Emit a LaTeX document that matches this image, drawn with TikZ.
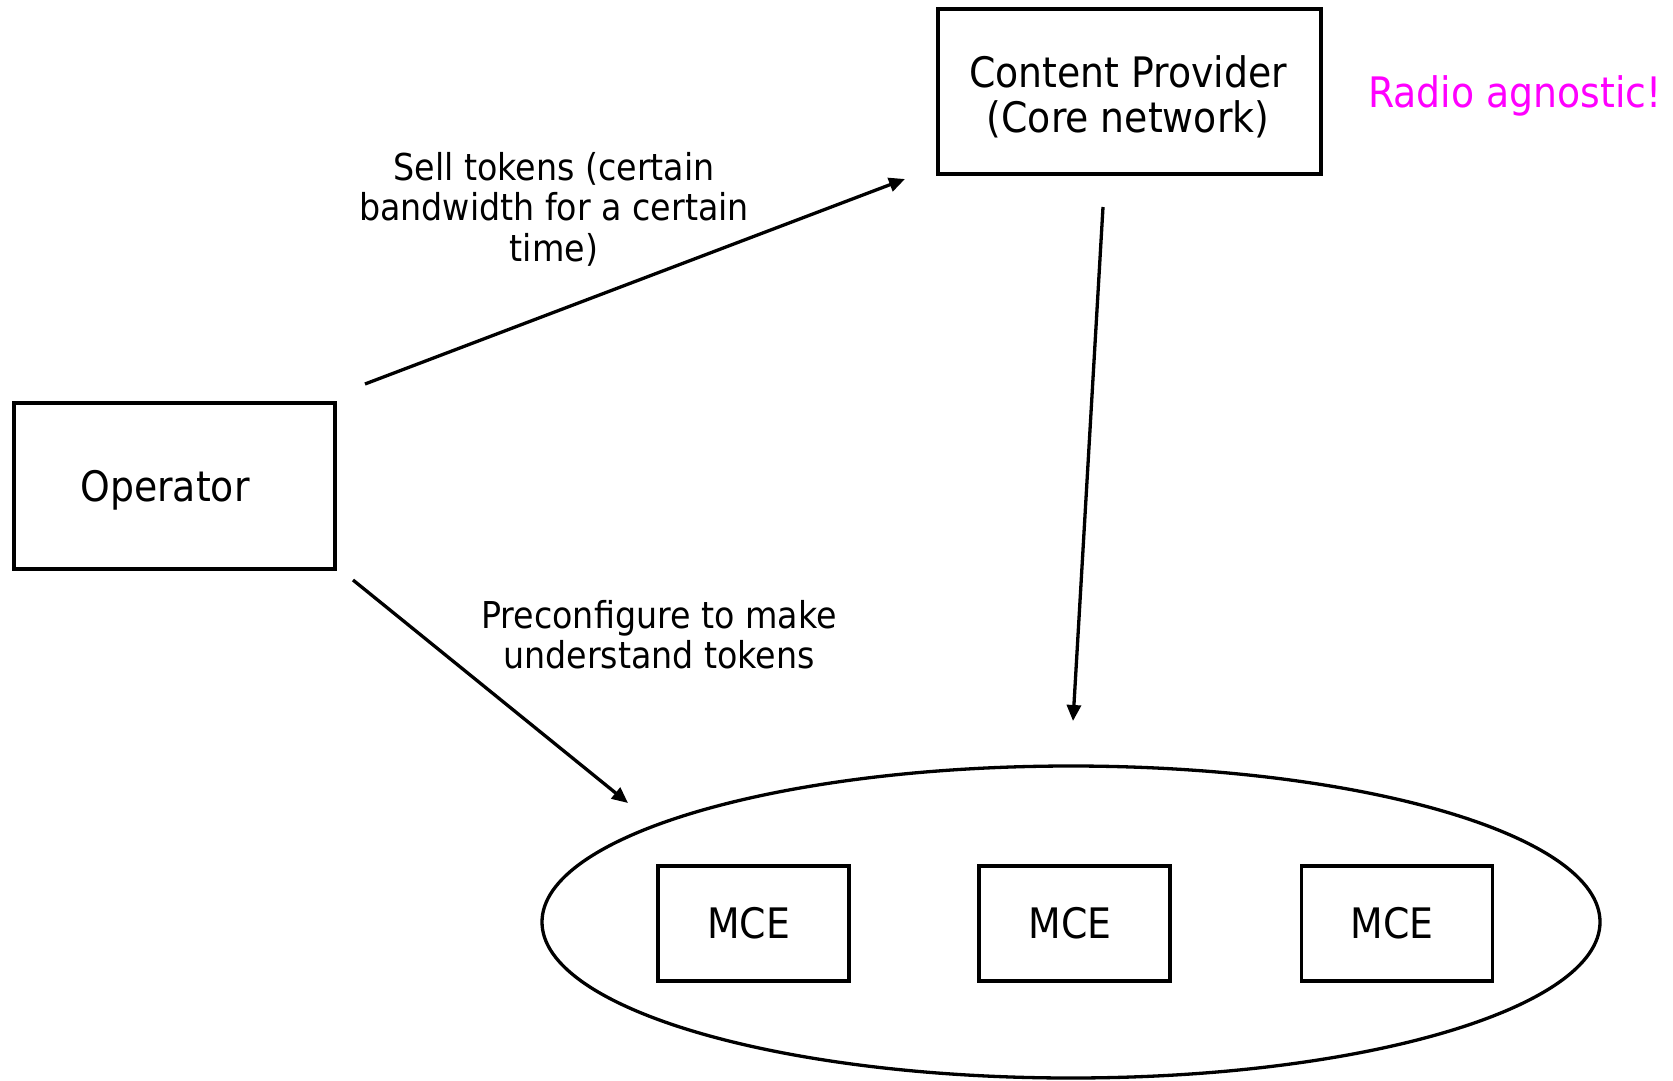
\documentclass[tikz,border=0pt]{standalone}
\usepackage{fontspec}
\setmainfont{DejaVu Sans}[FakeStretch=0.9]
\usetikzlibrary{arrows.meta,shapes.geometric}
\definecolor{agnostic}{RGB}{255,0,255}
\begin{document}
\begin{tikzpicture}[x=1pt,y=-1pt,
  box/.style={draw,line width=3.3pt,rectangle,inner sep=0pt},
  boxtext/.style={inner sep=0pt,align=center,font=\fontsize{42}{45}\selectfont},
  lbl/.style={inner sep=0pt,align=center,font=\fontsize{37}{40.5}\selectfont},
  conn/.style={line width=3.3pt,-{Triangle[length=16pt,width=14pt]}},
]
\useasboundingbox (0,0) rectangle (1673,1081);

% main parties
\node[box,minimum width=383pt,minimum height=165pt] (cp) at (1129.5,91.5) {};
\node[boxtext] (cpT) at (1128,97) {Content Provider\\(Core network)};
\node[box,minimum width=321pt,minimum height=166pt] (op) at (174.5,486) {};
\node[boxtext] (opT) at (165,490) {Operator};
\node[inner sep=0pt,text=agnostic,font=\fontsize{42}{45}\selectfont] (radio)
  at (1515,96) {Radio agnostic!};

% group of MCEs
\node[draw,ellipse,line width=3.3pt,minimum width=1058pt,minimum height=312pt,
  inner sep=0pt] (grp) at (1071,922) {};
\node[box,minimum width=191pt,minimum height=115pt] (mceA) at (753.5,923.5) {};
\node[box,minimum width=191pt,minimum height=115pt] (mceB) at (1074.5,923.5) {};
\node[box,minimum width=191pt,minimum height=115pt] (mceC) at (1397,923.5) {};
\node[boxtext] (mceAT) at (748.5,923.5) {MCE};
\node[boxtext] (mceBT) at (1070,923.5) {MCE};
\node[boxtext] (mceCT) at (1392,923.5) {MCE};

% arrow end points
\coordinate (sellS) at (365,384);
\coordinate (sellE) at (905,179);
\coordinate (preS) at (353,580);
\coordinate (preE) at (628,803);
\coordinate (coreS) at (1103,207);
\coordinate (coreE) at (1073,721);

\draw[conn] (sellS) -- (sellE);
\draw[conn] (preS) -- (preE);
\draw[conn] (coreS) -- (coreE);

% arrow labels
\node[lbl] (sellL) at (554,209)
  {Sell tokens (certain\\bandwidth for a certain\\time)};
\node[lbl] (preL) at (659,634.5)
  {Preconfigure to make\\understand tokens};
\end{tikzpicture}
\end{document}
